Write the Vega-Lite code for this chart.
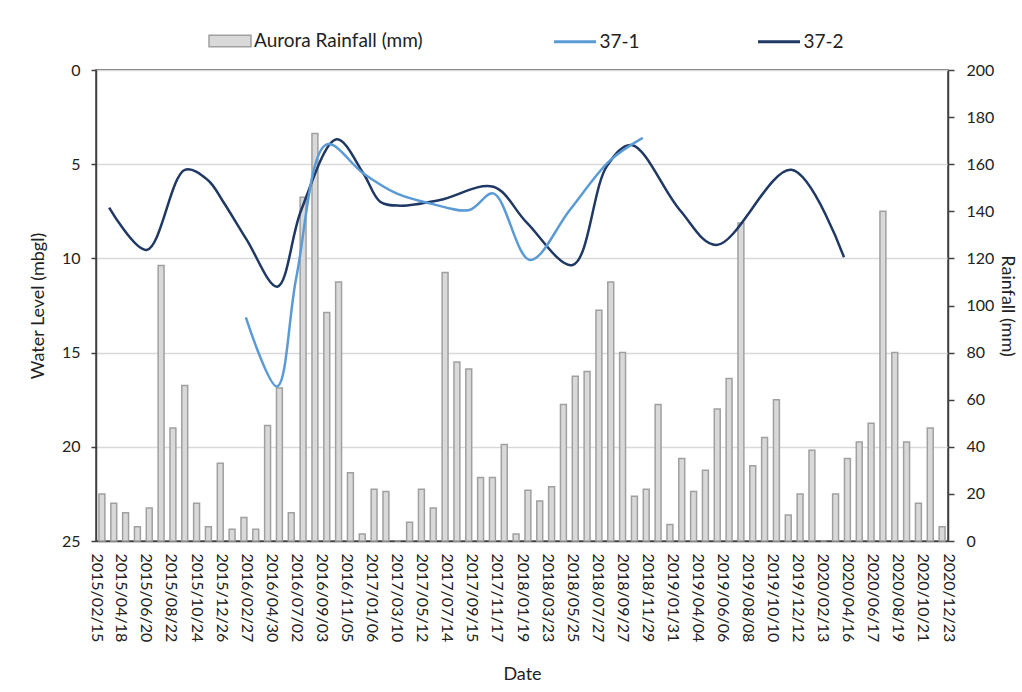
{
  "$schema": "https://vega.github.io/schema/vega-lite/v6.json",
  "width": 852,
  "height": 471,
  "autosize": {"type": "none"},
  "padding": {"left": 96, "top": 70, "right": 74, "bottom": 151},
  "background": "white",
  "config": {
    "font": "Lato",
    "view": {"stroke": "#404040", "strokeWidth": 1.5},
    "axis": {"labelFont": "Lato", "titleFont": "Lato", "labelColor": "#222", "titleColor": "#222", "titleFontWeight": "normal", "domainColor": "#404040", "tickColor": "#404040", "domainWidth": 1.5, "tickWidth": 1.5},
    "legend": {"labelFont": "Lato", "labelColor": "#222", "labelFontSize": 19, "labelLimit": 400, "padding": 0}
  },
  "datasets": {
    "rain": [
      {"month": "2015-01", "rain": 20}, {"month": "2015-02", "rain": 16}, {"month": "2015-03", "rain": 12},
      {"month": "2015-04", "rain": 6}, {"month": "2015-05", "rain": 14}, {"month": "2015-06", "rain": 117},
      {"month": "2015-07", "rain": 48}, {"month": "2015-08", "rain": 66}, {"month": "2015-09", "rain": 16},
      {"month": "2015-10", "rain": 6}, {"month": "2015-11", "rain": 33}, {"month": "2015-12", "rain": 5},
      {"month": "2016-01", "rain": 10}, {"month": "2016-02", "rain": 5}, {"month": "2016-03", "rain": 49},
      {"month": "2016-04", "rain": 65}, {"month": "2016-05", "rain": 12}, {"month": "2016-06", "rain": 146},
      {"month": "2016-07", "rain": 173}, {"month": "2016-08", "rain": 97}, {"month": "2016-09", "rain": 110},
      {"month": "2016-10", "rain": 29}, {"month": "2016-11", "rain": 3}, {"month": "2016-12", "rain": 22},
      {"month": "2017-01", "rain": 21}, {"month": "2017-02", "rain": 0}, {"month": "2017-03", "rain": 8},
      {"month": "2017-04", "rain": 22}, {"month": "2017-05", "rain": 14}, {"month": "2017-06", "rain": 114},
      {"month": "2017-07", "rain": 76}, {"month": "2017-08", "rain": 73}, {"month": "2017-09", "rain": 27},
      {"month": "2017-10", "rain": 27}, {"month": "2017-11", "rain": 41}, {"month": "2017-12", "rain": 3},
      {"month": "2018-01", "rain": 21.5}, {"month": "2018-02", "rain": 17}, {"month": "2018-03", "rain": 23},
      {"month": "2018-04", "rain": 58}, {"month": "2018-05", "rain": 70}, {"month": "2018-06", "rain": 72},
      {"month": "2018-07", "rain": 98}, {"month": "2018-08", "rain": 110}, {"month": "2018-09", "rain": 80},
      {"month": "2018-10", "rain": 19}, {"month": "2018-11", "rain": 22}, {"month": "2018-12", "rain": 58},
      {"month": "2019-01", "rain": 7}, {"month": "2019-02", "rain": 35}, {"month": "2019-03", "rain": 21},
      {"month": "2019-04", "rain": 30}, {"month": "2019-05", "rain": 56}, {"month": "2019-06", "rain": 69},
      {"month": "2019-07", "rain": 135}, {"month": "2019-08", "rain": 32}, {"month": "2019-09", "rain": 44},
      {"month": "2019-10", "rain": 60}, {"month": "2019-11", "rain": 11}, {"month": "2019-12", "rain": 20},
      {"month": "2020-01", "rain": 38.5}, {"month": "2020-02", "rain": 0}, {"month": "2020-03", "rain": 20},
      {"month": "2020-04", "rain": 35}, {"month": "2020-05", "rain": 42}, {"month": "2020-06", "rain": 50},
      {"month": "2020-07", "rain": 140}, {"month": "2020-08", "rain": 80}, {"month": "2020-09", "rain": 42},
      {"month": "2020-10", "rain": 16}, {"month": "2020-11", "rain": 48}, {"month": "2020-12", "rain": 6}
    ],
    "levels": [
      {"date": "2015-03-20", "series": "37-2", "level": 7.3},
      {"date": "2015-06-22", "series": "37-2", "level": 9.55},
      {"date": "2015-09-26", "series": "37-2", "level": 5.3},
      {"date": "2015-11-23", "series": "37-2", "level": 5.85},
      {"date": "2015-12-30", "series": "37-2", "level": 6.95},
      {"date": "2016-02-28", "series": "37-2", "level": 9.0},
      {"date": "2016-05-15", "series": "37-2", "level": 11.5},
      {"date": "2016-07-14", "series": "37-2", "level": 7.43},
      {"date": "2016-10-11", "series": "37-2", "level": 3.68},
      {"date": "2016-12-17", "series": "37-2", "level": 5.49},
      {"date": "2017-01-28", "series": "37-2", "level": 6.99},
      {"date": "2017-03-19", "series": "37-2", "level": 7.2},
      {"date": "2017-06-27", "series": "37-2", "level": 6.9},
      {"date": "2017-11-08", "series": "37-2", "level": 6.2},
      {"date": "2018-01-31", "series": "37-2", "level": 8.1},
      {"date": "2018-05-26", "series": "37-2", "level": 10.35},
      {"date": "2018-08-20", "series": "37-2", "level": 5.1},
      {"date": "2018-10-21", "series": "37-2", "level": 3.98},
      {"date": "2019-02-19", "series": "37-2", "level": 7.43},
      {"date": "2019-05-22", "series": "37-2", "level": 9.29},
      {"date": "2019-11-26", "series": "37-2", "level": 5.3},
      {"date": "2020-04-06", "series": "37-2", "level": 9.94},
      {"date": "2016-02-26", "series": "37-1", "level": 13.13},
      {"date": "2016-05-14", "series": "37-1", "level": 16.8},
      {"date": "2016-07-02", "series": "37-1", "level": 10.97},
      {"date": "2016-09-16", "series": "37-1", "level": 3.95},
      {"date": "2016-12-17", "series": "37-1", "level": 5.49},
      {"date": "2017-03-10", "series": "37-1", "level": 6.55},
      {"date": "2017-06-02", "series": "37-1", "level": 7.08},
      {"date": "2017-09-09", "series": "37-1", "level": 7.43},
      {"date": "2017-11-08", "series": "37-1", "level": 6.55},
      {"date": "2018-02-08", "series": "37-1", "level": 10.08},
      {"date": "2018-05-19", "series": "37-1", "level": 7.43},
      {"date": "2018-08-28", "series": "37-1", "level": 4.8},
      {"date": "2018-11-18", "series": "37-1", "level": 3.6}
    ]
  },
  "layer": [
    {
      "data": {"name": "rain"},
      "transform": [{"calculate": "'Aurora Rainfall (mm)'", "as": "series"}],
      "mark": {"type": "bar", "stroke": "#A0A0A0", "strokeWidth": 1.5},
      "encoding": {
        "x": {"field": "month", "type": "ordinal", "axis": null,
              "scale": {"paddingInner": 0.5, "paddingOuter": 0.25}},
        "y": {"field": "rain", "type": "quantitative",
              "scale": {"domain": [0, 200], "nice": false},
              "axis": {"orient": "right", "title": "Rainfall (mm)", "values": [0,20,40,60,80,100,120,140,160,180,200],
                       "grid": false, "labelFontSize": 16, "titleFontSize": 18, "tickSize": 6, "labelPadding": 12, "titlePadding": 4}},
        "fill": {"field": "series", "type": "nominal",
                 "scale": {"domain": ["Aurora Rainfall (mm)"], "range": ["#D9D9D9"]},
                 "legend": {"title": null, "orient": "none", "legendX": 112, "legendY": -51,
                            "symbolType": "M-1,-0.27H1V0.27H-1Z", "symbolSize": 1764,
                            "symbolStrokeColor": "#A0A0A0", "symbolStrokeWidth": 1.5, "symbolFillColor": "#D9D9D9",
                            "labelOffset": 2}}
      }
    },
    {
      "data": {"name": "levels"},
      "mark": {"type": "line", "interpolate": "catmull-rom", "strokeWidth": 2.5},
      "encoding": {
        "x": {"field": "date", "type": "temporal",
              "scale": {"type": "utc", "domain": [{"year": 2015, "month": 2, "date": 15, "utc": true}, {"year": 2020, "month": 12, "date": 23, "utc": true}]},
              "axis": {"title": "Date", "labelExpr": "utcFormat(datum.value, '%Y/%m/%d')", "labelAngle": 90, "ticks": false, "labelPadding": 12,
                       "labelFontSize": 16, "titleFontSize": 18, "titlePadding": 24, "grid": false, "labelOverlap": false,
                       "values": [
                         {"year": 2015, "month": 2, "date": 15, "utc": true}, {"year": 2015, "month": 4, "date": 18, "utc": true},
                         {"year": 2015, "month": 6, "date": 20, "utc": true}, {"year": 2015, "month": 8, "date": 22, "utc": true},
                         {"year": 2015, "month": 10, "date": 24, "utc": true}, {"year": 2015, "month": 12, "date": 26, "utc": true},
                         {"year": 2016, "month": 2, "date": 27, "utc": true}, {"year": 2016, "month": 4, "date": 30, "utc": true},
                         {"year": 2016, "month": 7, "date": 2, "utc": true}, {"year": 2016, "month": 9, "date": 3, "utc": true},
                         {"year": 2016, "month": 11, "date": 5, "utc": true}, {"year": 2017, "month": 1, "date": 6, "utc": true},
                         {"year": 2017, "month": 3, "date": 10, "utc": true}, {"year": 2017, "month": 5, "date": 12, "utc": true},
                         {"year": 2017, "month": 7, "date": 14, "utc": true}, {"year": 2017, "month": 9, "date": 15, "utc": true},
                         {"year": 2017, "month": 11, "date": 17, "utc": true}, {"year": 2018, "month": 1, "date": 19, "utc": true},
                         {"year": 2018, "month": 3, "date": 23, "utc": true}, {"year": 2018, "month": 5, "date": 25, "utc": true},
                         {"year": 2018, "month": 7, "date": 27, "utc": true}, {"year": 2018, "month": 9, "date": 27, "utc": true},
                         {"year": 2018, "month": 11, "date": 29, "utc": true}, {"year": 2019, "month": 1, "date": 31, "utc": true},
                         {"year": 2019, "month": 4, "date": 4, "utc": true}, {"year": 2019, "month": 6, "date": 6, "utc": true},
                         {"year": 2019, "month": 8, "date": 8, "utc": true}, {"year": 2019, "month": 10, "date": 10, "utc": true},
                         {"year": 2019, "month": 12, "date": 12, "utc": true}, {"year": 2020, "month": 2, "date": 13, "utc": true},
                         {"year": 2020, "month": 4, "date": 16, "utc": true}, {"year": 2020, "month": 6, "date": 17, "utc": true},
                         {"year": 2020, "month": 8, "date": 19, "utc": true}, {"year": 2020, "month": 10, "date": 21, "utc": true},
                         {"year": 2020, "month": 12, "date": 23, "utc": true}
                       ]}},
        "y": {"field": "level", "type": "quantitative",
              "scale": {"domain": [0, 25], "reverse": true, "nice": false},
              "axis": {"orient": "left", "title": "Water Level (mbgl)", "values": [0, 5, 10, 15, 20, 25],
                       "grid": true, "gridColor": "#D9D9D9", "gridWidth": 1.5,
                       "labelFontSize": 16, "titleFontSize": 18, "tickSize": 5, "labelPadding": 11, "titlePadding": 14}},
        "stroke": {"field": "series", "type": "nominal",
                   "scale": {"domain": ["37-1", "37-2"], "range": ["#5B9BD5", "#1F3864"]},
                   "legend": {"title": null, "orient": "none", "direction": "horizontal", "legendX": 456.5, "legendY": -51,
                              "symbolType": "stroke", "symbolSize": 1764, "symbolStrokeWidth": 3,
                              "labelOffset": 2, "columnPadding": 111}}
      }
    }
  ],
  "resolve": {"scale": {"x": "independent", "y": "independent"}, "axis": {"x": "independent", "y": "independent"}}
}
